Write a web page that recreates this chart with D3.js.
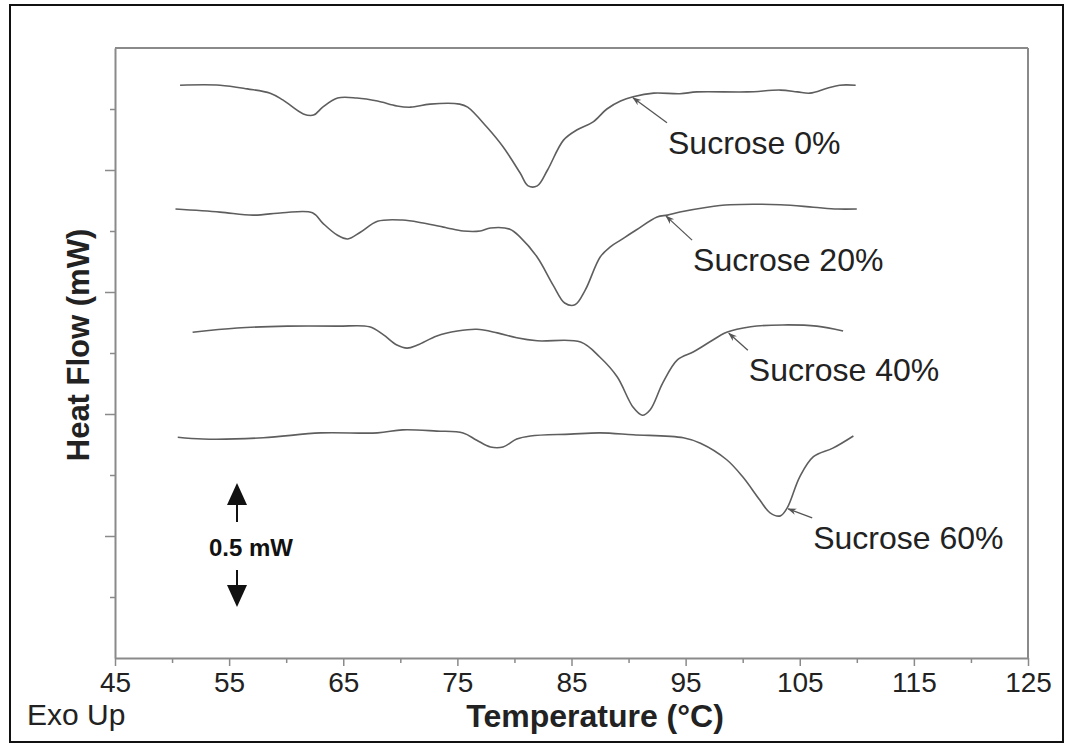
<!DOCTYPE html>
<html><head><meta charset="utf-8">
<script src="https://cdn.jsdelivr.net/npm/d3@7"></script>
<style>body{margin:0;background:#fff}svg{display:block}</style>
</head><body>
<svg id="c" width="1073" height="748"></svg>
<script>
// ---- data (temperature °C, heat flow in axis tick units) ----
const xTicks = [45,55,65,75,85,95,105,115,125];
const xMinorTicks = [50,60,70,80,90,100,110,120];
const yMajorTicks = [2,4,6,8];
const yMinorTicks = [1,3,5,7,9];
const seriesNames = ["Sucrose 0%","Sucrose 20%","Sucrose 40%","Sucrose 60%"];

const t0 = [50.7,54.2,56.6,58.6,59.7,61.5,62.4,63.2,64.5,66.2,68.0,69.7,70.9,72.6,75.2,75.9,77.6,79.0,80.5,81.2,82.0,82.9,84.3,85.5,86.9,88.1,89.3,90.4,92.2,94.5,96.0,100.4,103.3,104.8,105.9,107.4,108.5,109.9];
const v0 = [9.39,9.39,9.33,9.26,9.15,8.92,8.90,9.03,9.18,9.18,9.13,9.05,9.03,9.08,9.08,9.03,8.70,8.38,7.95,7.74,7.74,8.00,8.49,8.66,8.79,9.00,9.13,9.20,9.26,9.25,9.28,9.28,9.31,9.28,9.26,9.34,9.39,9.39];

const t20 = [50.3,54.2,57.1,59.7,62.3,63.2,64.5,65.4,66.5,68.0,70.2,72.0,74.1,75.5,77.0,77.9,79.6,80.5,82.0,83.4,84.4,85.3,86.2,87.5,88.4,89.3,90.7,92.5,93.4,94.5,96.9,98.9,103.3,106.2,108.3,110.0];
const v20 = [7.36,7.31,7.26,7.30,7.30,7.13,6.93,6.87,6.98,7.16,7.18,7.13,7.05,7.00,7.00,7.05,7.03,6.90,6.57,6.11,5.82,5.79,6.03,6.57,6.74,6.85,7.02,7.23,7.26,7.31,7.39,7.43,7.43,7.39,7.36,7.36];

const t40 = [51.8,55.7,60.1,64.5,67.3,68.5,69.7,70.6,71.5,73.2,75.0,76.7,78.5,80.2,82.0,85.8,87.5,89.0,90.4,91.2,91.9,93.0,94.3,95.7,97.1,98.6,100.7,103.5,106.5,108.8];
const v40 = [5.34,5.41,5.44,5.44,5.43,5.30,5.13,5.08,5.13,5.28,5.36,5.39,5.33,5.25,5.20,5.18,4.93,4.61,4.11,3.98,4.07,4.51,4.89,5.02,5.18,5.34,5.43,5.46,5.44,5.36];

const t60 = [50.5,52.7,58.0,63.0,68.0,70.2,73.2,75.5,76.7,77.9,79.0,80.2,81.4,84.9,87.5,90.4,94.8,96.3,98.6,100.0,101.5,102.4,103.3,103.9,105.0,106.2,107.9,109.7];
const v60 = [3.62,3.59,3.61,3.69,3.69,3.74,3.72,3.69,3.57,3.46,3.46,3.59,3.64,3.67,3.69,3.66,3.61,3.52,3.25,2.97,2.59,2.38,2.33,2.46,2.97,3.30,3.44,3.64];

// annotation arrow tips on each curve
const tipT = [90.3,93.2,98.7,103.9];
const tipV = [9.20,7.26,5.34,2.46];

// ---- chart ----
const svg = d3.select("#c");
const L = 115, R = 1028, T = 48, B = 658;
const x = d3.scaleLinear().domain([45,125]).range([L,R]);
const y = d3.scaleLinear().domain([0,10]).range([B,T]);
const axisCol = "#8a8a8a", curveCol = "#5e5e5e", textCol = "#222";
const FONT = "Liberation Sans, Arial, sans-serif";

// outer frame
svg.append("rect").attr("x",10).attr("y",5).attr("width",1053).attr("height",737)
  .attr("fill","none").attr("stroke","#111").attr("stroke-width",2);

// plot box top/right
svg.append("line").attr("x1",L).attr("x2",R).attr("y1",T).attr("y2",T).attr("stroke",axisCol).attr("stroke-width",2);
svg.append("line").attr("x1",R).attr("x2",R).attr("y1",T).attr("y2",B).attr("stroke",axisCol).attr("stroke-width",2);

// x axis
const gx = svg.append("g").attr("transform",`translate(0,${B})`)
  .call(d3.axisBottom(x).tickValues(xTicks).tickSize(8).tickSizeOuter(0).tickPadding(6).tickFormat(d3.format("d")));
gx.selectAll(".tick text").attr("font-family",FONT).attr("font-size",28).attr("fill",textCol);
svg.append("g").attr("transform",`translate(0,${B})`)
  .call(d3.axisBottom(x).tickValues(xMinorTicks).tickSize(5).tickSizeOuter(0).tickFormat(""))
  .select(".domain").remove();

// y axis
svg.append("g").attr("transform",`translate(${L},0)`)
  .call(d3.axisLeft(y).tickValues(yMajorTicks).tickSize(10).tickSizeOuter(0).tickFormat(""));
svg.append("g").attr("transform",`translate(${L},0)`)
  .call(d3.axisLeft(y).tickValues(yMinorTicks).tickSize(5).tickSizeOuter(0).tickFormat(""))
  .select(".domain").remove();
svg.selectAll(".domain").attr("stroke",axisCol).attr("stroke-width",2);
svg.selectAll(".tick line").attr("stroke",axisCol).attr("stroke-width",1.5);

// curves
const series = [[t0,v0],[t20,v20],[t40,v40],[t60,v60]];
const line = d3.line().x(d=>x(d[0])).y(d=>y(d[1])).curve(d3.curveCatmullRom.alpha(0.5));
series.forEach(([ts,vs])=>{
  svg.append("path").datum(ts.map((t,i)=>[t,vs[i]])).attr("d",line)
    .attr("fill","none").attr("stroke",curveCol).attr("stroke-width",1.6);
});

// arrow marker
const defs = svg.append("defs");
defs.append("marker").attr("id","ah").attr("viewBox","0 0 10 10").attr("refX",9).attr("refY",5)
  .attr("markerWidth",9).attr("markerHeight",9).attr("orient","auto").attr("markerUnits","userSpaceOnUse")
  .append("path").attr("d","M0,1.5 L10,5 L0,8.5 L3,5 Z").attr("fill","#555");

// annotations
const tailDx = [35,27,20,25], tailDy = [26,25,18,10];
seriesNames.forEach((name,i)=>{
  const px = x(tipT[i]), py = y(tipV[i]);
  svg.append("line").attr("x1",px+tailDx[i]).attr("y1",py+tailDy[i]).attr("x2",px+1).attr("y2",py+1)
    .attr("stroke","#555").attr("stroke-width",1.3).attr("marker-end","url(#ah)");
  svg.append("text").attr("x",px+tailDx[i]+1).attr("y",py+tailDy[i]+31)
    .attr("font-family",FONT).attr("font-size",32).attr("fill",textCol).text(name);
});

// axis titles
svg.append("text").attr("x",595).attr("y",727).attr("text-anchor","middle")
  .attr("font-family",FONT).attr("font-weight","bold").attr("font-size",32)
  .attr("fill",textCol).text("Temperature (°C)");
svg.append("text").attr("transform","translate(89,345) rotate(-90)").attr("text-anchor","middle")
  .attr("font-family",FONT).attr("font-weight","bold").attr("font-size",31)
  .attr("fill",textCol).text("Heat Flow (mW)");
svg.append("text").attr("x",27).attr("y",725)
  .attr("font-family",FONT).attr("font-size",30).attr("fill",textCol).text("Exo Up");

// 0.5 mW scale bar
const sb = svg.append("g").attr("fill","#111").attr("stroke","#111");
sb.append("path").attr("d","M237,483 L227,505 L247,505 Z").attr("stroke","none");
sb.append("line").attr("x1",237).attr("x2",237).attr("y1",504).attr("y2",522).attr("stroke-width",2);
sb.append("line").attr("x1",237).attr("x2",237).attr("y1",570).attr("y2",587).attr("stroke-width",2);
sb.append("path").attr("d","M237,607 L227,585 L247,585 Z").attr("stroke","none");
svg.append("text").attr("x",251).attr("y",556).attr("text-anchor","middle")
  .attr("font-family",FONT).attr("font-weight","bold").attr("font-size",24)
  .attr("fill","#111").text("0.5 mW");
</script>
</body></html>
